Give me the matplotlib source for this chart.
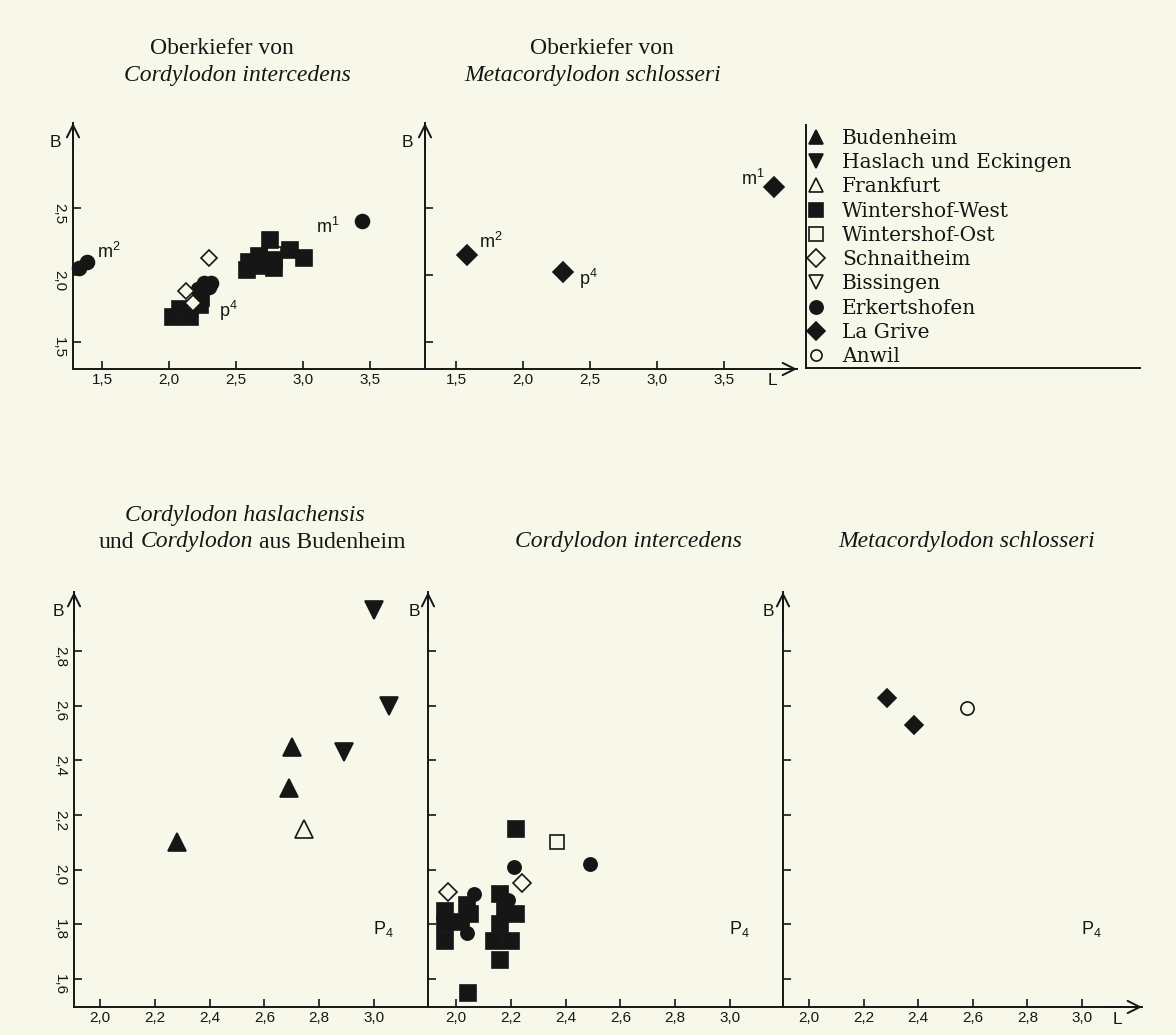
import matplotlib
matplotlib.use('Agg')
import matplotlib.pyplot as plt
from matplotlib.lines import Line2D
from matplotlib.ticker import FuncFormatter

plt.rcParams['mathtext.fontset'] = 'custom'
plt.rcParams['mathtext.rm'] = 'Liberation Sans'
plt.rcParams['mathtext.default'] = 'regular'

W, H = 1176, 1035
BG = '#f7f8ea'
INK = '#161616'

# Oberkiefer von Cordylodon intercedens  (L, B)
okci_erk_L = [1.33, 1.39, 3.44, 2.26, 2.31, 2.24, 2.22, 2.30]
okci_erk_B = [2.05, 2.10, 2.40, 1.94, 1.94, 1.84, 1.90, 1.91]
okci_wost_L = [2.78]
okci_wost_B = [2.16]
okci_west_L = [2.75, 2.90, 3.01, 2.60, 2.58, 2.67, 2.68, 2.78, 2.78, 2.03, 2.08, 2.16, 2.23, 2.24]
okci_west_B = [2.26, 2.19, 2.13, 2.10, 2.04, 2.14, 2.07, 2.11, 2.05, 1.69, 1.75, 1.69, 1.78, 1.83]
okci_schn_L = [2.30, 2.13, 2.18]
okci_schn_B = [2.13, 1.88, 1.79]

# Oberkiefer von Metacordylodon schlosseri
okms_grive_L = [1.58, 2.30, 3.87]
okms_grive_B = [2.15, 2.02, 2.66]

# Cordylodon haslachensis und Cordylodon aus Budenheim (P4)
ch_bud_L = [2.28, 2.70, 2.69]
ch_bud_B = [2.10, 2.45, 2.30]
ch_frank_L = [2.745]
ch_frank_B = [2.15]
ch_hasl_L = [3.00, 3.055, 2.89]
ch_hasl_B = [2.95, 2.60, 2.43]

# Cordylodon intercedens (P4)
ci_west_L = [2.22, 1.96, 1.96, 1.96, 2.04, 2.05, 2.02, 2.16, 2.18, 2.22, 2.16, 2.14, 2.20, 2.16, 2.045]
ci_west_B = [2.15, 1.85, 1.80, 1.74, 1.87, 1.84, 1.81, 1.91, 1.86, 1.84, 1.80, 1.74, 1.74, 1.67, 1.55]
ci_wost_L = [2.37]
ci_wost_B = [2.10]
ci_erk_L = [2.49, 2.21, 2.065, 2.04, 2.19]
ci_erk_B = [2.02, 2.01, 1.91, 1.77, 1.89]
ci_schn_L = [2.24, 1.97]
ci_schn_B = [1.95, 1.92]

# Metacordylodon schlosseri (P4)
ms_grive_L = [2.285, 2.386]
ms_grive_B = [2.63, 2.53]
ms_anwil_L = [2.58]
ms_anwil_B = [2.59]

sites = ['Budenheim', 'Haslach und Eckingen', 'Frankfurt', 'Wintershof-West',
         'Wintershof-Ost', 'Schnaitheim', 'Bissingen', 'Erkertshofen', 'La Grive', 'Anwil']
markers = ['^', 'v', '^', 's', 's', 'D', 'v', 'o', 'D', 'o']
filled = [True, True, False, True, False, False, False, True, True, False]
style = {s: (m, f) for s, m, f in zip(sites, markers, filled)}

fig = plt.figure(figsize=(W / 100, H / 100), dpi=100, facecolor=BG)


def px_axes(x0, y0, x1, y1):
    return fig.add_axes([x0 / W, 1 - y1 / H, (x1 - x0) / W, (y1 - y0) / H])


comma = FuncFormatter(lambda v, p: f'{v:.1f}'.replace('.', ','))


def panel(box, xlim, ylim, xticks, yticks, ylabels, xarrow, bpos):
    ax = px_axes(*box)
    ax.set_facecolor('none')
    ax.set_xlim(xlim)
    ax.set_ylim(ylim)
    for s in ('top', 'right'):
        ax.spines[s].set_visible(False)
    for s in ('left', 'bottom'):
        ax.spines[s].set_linewidth(1.4)
        ax.spines[s].set_color(INK)
    ax.set_xticks(xticks)
    ax.set_yticks(yticks)
    ax.xaxis.set_major_formatter(comma)
    ax.yaxis.set_major_formatter(comma)
    ax.tick_params(direction='in', length=6, width=1.2, color=INK, labelcolor=INK,
                   labelsize=11, labelfontfamily='Liberation Sans')
    ax.tick_params(axis='x', pad=3)
    ax.tick_params(axis='y', pad=5, labelrotation=-90, labelleft=ylabels)
    arrow = dict(arrowstyle='->', lw=1.4, color=INK, mutation_scale=22, shrinkA=0, shrinkB=0)
    ax.annotate('', xy=(0, 1), xytext=(0, 0.9), xycoords='axes fraction',
                arrowprops=arrow, annotation_clip=False)
    ax.annotate('B', xy=(0, 1), xycoords='axes fraction', xytext=bpos,
                textcoords='offset pixels', ha='center', va='center',
                fontsize=12.5, family='Liberation Sans', color=INK)
    if xarrow:
        ax.annotate('', xy=(1, 0), xytext=(0.9, 0), xycoords='axes fraction',
                    arrowprops=arrow, annotation_clip=False)
        ax.annotate('L', xy=(1, 0), xycoords='axes fraction', xytext=(-25, -12),
                    textcoords='offset pixels', ha='center', va='center',
                    fontsize=12.5, family='Liberation Sans', color=INK)
    return ax


def pts(ax, L, B, site, ms):
    m, f = style[site]
    ax.plot(L, B, ls='none', marker=m, ms=ms, mfc=INK if f else BG, mec=INK,
            mew=1.2, clip_on=False, zorder=3)


def lab(ax, x, y, s):
    ax.text(x, y, s, fontsize=13, family='Liberation Sans', color=INK,
            ha='left', va='center')


# top row
top_ylim = (1.30, 3.134)
t1 = panel((73, 123, 425, 369), (1.284, 3.91), top_ylim, [1.5, 2.0, 2.5, 3.0, 3.5],
           [1.5, 2.0, 2.5], True, False, (-18, -20))
pts(t1, okci_wost_L, okci_wost_B, 'Wintershof-Ost', 10)
pts(t1, okci_west_L, okci_west_B, 'Wintershof-West', 11)
pts(t1, okci_erk_L, okci_erk_B, 'Erkertshofen', 10)
pts(t1, okci_schn_L, okci_schn_B, 'Schnaitheim', 8)
lab(t1, 1.46, 2.17, 'm$^2$')
lab(t1, 3.10, 2.36, 'm$^1$')
lab(t1, 2.37, 1.73, 'p$^4$')

t2 = panel((425, 123, 797, 369), (1.269, 4.045), top_ylim, [1.5, 2.0, 2.5, 3.0, 3.5],
           [1.5, 2.0, 2.5], False, True, (-18, -20))
pts(t2, okms_grive_L, okms_grive_B, 'La Grive', 10.5)
lab(t2, 1.67, 2.25, 'm$^2$')
lab(t2, 2.42, 1.97, 'p$^4$')
lab(t2, 3.63, 2.72, 'm$^1$')

# bottom row
b_ylim = (1.498, 3.016)
bx = [2.0, 2.2, 2.4, 2.6, 2.8, 3.0]
by = [1.6, 1.8, 2.0, 2.2, 2.4, 2.6, 2.8]
b1 = panel((74, 592, 428, 1007), (1.905, 3.197), b_ylim, bx, by, True, False, (-16, -20))
pts(b1, ch_bud_L, ch_bud_B, 'Budenheim', 13)
pts(b1, ch_frank_L, ch_frank_B, 'Frankfurt', 13)
pts(b1, ch_hasl_L, ch_hasl_B, 'Haslach und Eckingen', 13)

b2 = panel((428, 592, 783, 1007), (1.898, 3.193), b_ylim, bx, by, False, False, (-14, -20))
pts(b2, ci_schn_L, ci_schn_B, 'Schnaitheim', 9)
pts(b2, ci_west_L, ci_west_B, 'Wintershof-West', 11)
pts(b2, ci_erk_L, ci_erk_B, 'Erkertshofen', 9.5)
pts(b2, ci_wost_L, ci_wost_B, 'Wintershof-Ost', 9.7)

b3 = panel((783, 592, 1142, 1007), (1.905, 3.22), b_ylim, bx, by, False, True, (-15, -20))
pts(b3, ms_grive_L, ms_grive_B, 'La Grive', 9)
pts(b3, ms_anwil_L, ms_anwil_B, 'Anwil', 9.5)

for ax in (b1, b2, b3):
    lab(ax, 2.995, 1.785, 'P$_4$')

# legend box
lg = px_axes(806, 125, 1140, 368)
lg.set_facecolor('none')
lg.set_xticks([])
lg.set_yticks([])
for s in ('top', 'right'):
    lg.spines[s].set_visible(False)
for s in ('left', 'bottom'):
    lg.spines[s].set_linewidth(1.4)
    lg.spines[s].set_color(INK)
handles = [Line2D([], [], ls='none', marker=m, ms=9.5 if m != 'o' or f else 8,
                  mfc=INK if f else BG, mec=INK, mew=1.2)
           for m, f in zip(markers, filled)]
lg.legend(handles, sites, loc='upper left', bbox_to_anchor=(0, 0.988), frameon=False,
          borderaxespad=0, borderpad=0.05, handlelength=0.9, handletextpad=0.85,
          labelspacing=0.26, prop={'family': 'DejaVu Serif', 'size': 14.5},
          labelcolor=INK)

# titles
serif = dict(family='Liberation Serif', color=INK, ha='center', va='center', fontsize=17)
fig.text(222 / W, 1 - 48 / H, 'Oberkiefer von', **serif)
fig.text(237 / W, 1 - 75 / H, 'Cordylodon intercedens', style='italic', **serif)
fig.text(602 / W, 1 - 48 / H, 'Oberkiefer von', **serif)
fig.text(593 / W, 1 - 75 / H, 'Metacordylodon schlosseri', style='italic', **serif)
fig.text(245 / W, 1 - 515 / H, 'Cordylodon haslachensis', style='italic', **serif)
fig.text(628 / W, 1 - 542 / H, 'Cordylodon intercedens', style='italic', **serif)
fig.text(967 / W, 1 - 542 / H, 'Metacordylodon schlosseri', style='italic', **serif)

# mixed line: "und Cordylodon aus Budenheim"
parts = [('und', 'normal'), ('Cordylodon', 'italic'), ('aus Budenheim', 'normal')]
kw = dict(family='Liberation Serif', color=INK, ha='left', va='center', fontsize=17)
txts = [fig.text(0, 1 - 542 / H, s, style=st, **kw) for s, st in parts]
r = fig.canvas.get_renderer()
widths = [t.get_window_extent(r).width for t in txts]
gap = 6
x = 252 - (sum(widths) + gap * 2) / 2
for t, w in zip(txts, widths):
    t.set_x(x / W)
    x += w + gap

fig.savefig('out.png', dpi=100, facecolor=BG)
